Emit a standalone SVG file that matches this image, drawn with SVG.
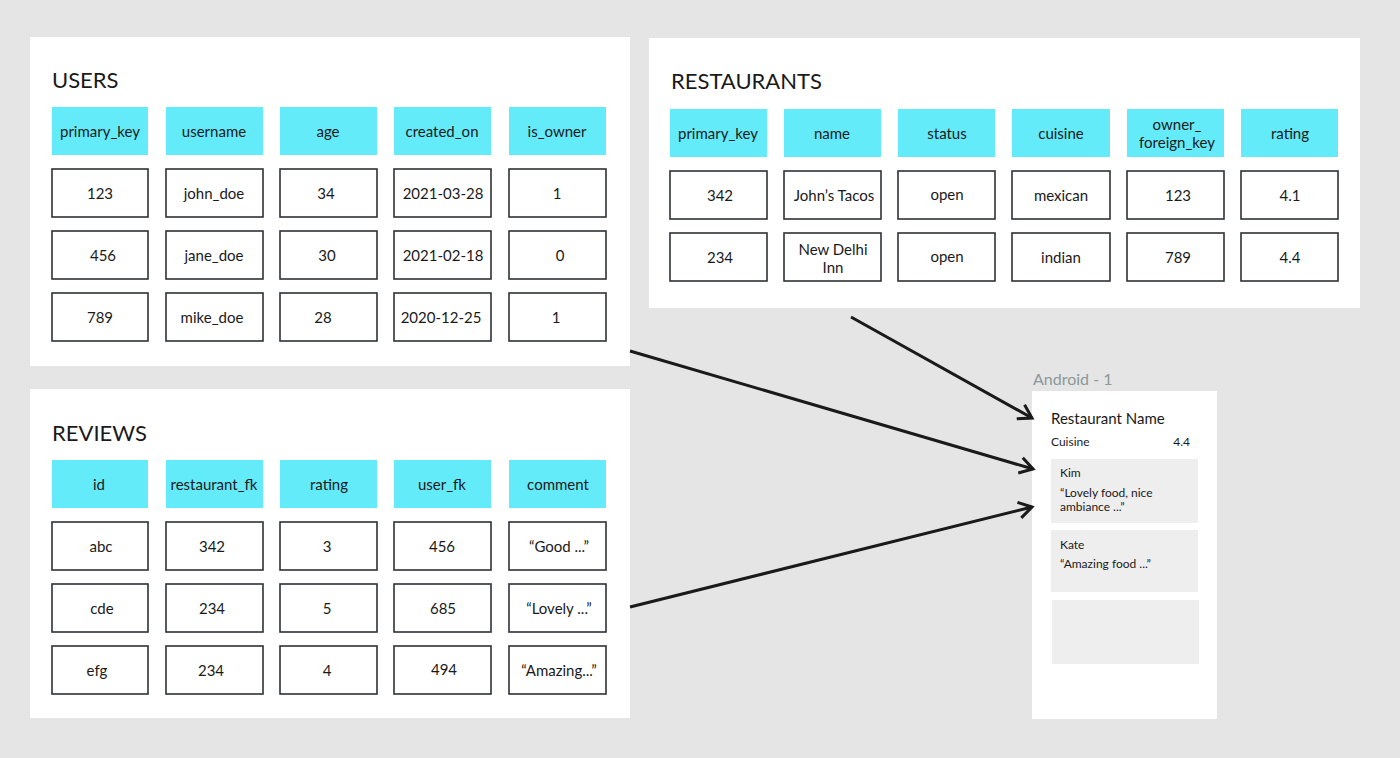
<svg xmlns="http://www.w3.org/2000/svg" width="1400" height="758" viewBox="0 0 1400 758">
<style>
.panel{fill:#ffffff}
.hd{fill:#64ebfa}
.cell{fill:#ffffff;stroke:#2e3236;stroke-width:1.6}
.t{font-family:Lato,"Open Sans",sans-serif;font-size:15px;fill:#1a1a1a;text-anchor:middle}
.title{font-family:Lato,"Open Sans",sans-serif;font-size:22px;fill:#1a1a1a}
.lbl{font-family:Lato,"Open Sans",sans-serif;font-size:16px;fill:#8c9899}
.s{font-family:Lato,"Open Sans",sans-serif;font-size:12px;fill:#1a1a1a}
.card{fill:#eeeeee}
.conn{fill:none;stroke:#1a1a1a;stroke-width:3}
</style>
<defs>
<marker id="arr" markerUnits="userSpaceOnUse" markerWidth="20" markerHeight="20" viewBox="0 0 20 20" refX="16" refY="10" orient="auto">
<path d="M3,2 L16,10 L3,18" fill="none" stroke="#1a1a1a" stroke-width="3"/>
</marker>
</defs>
<rect width="1400" height="758" fill="#e5e5e5"/>

<g id="users">
<rect class="panel" x="30" y="37" width="600" height="329"/>
<text class="title" x="52" y="88">USERS</text>
<rect class="hd" x="52" y="107" width="96" height="48"/>
<rect class="hd" x="166" y="107" width="97" height="48"/>
<rect class="hd" x="280" y="107" width="97" height="48"/>
<rect class="hd" x="394" y="107" width="97" height="48"/>
<rect class="hd" x="509" y="107" width="97" height="48"/>
<text class="t" x="100" y="137">primary_key</text>
<text class="t" x="214" y="137">username</text>
<text class="t" x="328" y="137">age</text>
<text class="t" x="442" y="137">created_on</text>
<text class="t" x="557" y="137">is_owner</text>
<rect class="cell" x="52" y="169" width="96" height="48"/>
<rect class="cell" x="166" y="169" width="97" height="48"/>
<rect class="cell" x="280" y="169" width="97" height="48"/>
<rect class="cell" x="394" y="169" width="97" height="48"/>
<rect class="cell" x="509" y="169" width="97" height="48"/>
<text class="t" x="100" y="199">123</text>
<text class="t" x="214" y="199">john_doe</text>
<text class="t" x="326" y="199">34</text>
<text class="t" x="443" y="199">2021-03-28</text>
<text class="t" x="557" y="199">1</text>
<rect class="cell" x="52" y="231" width="96" height="48"/>
<rect class="cell" x="166" y="231" width="97" height="48"/>
<rect class="cell" x="280" y="231" width="97" height="48"/>
<rect class="cell" x="394" y="231" width="97" height="48"/>
<rect class="cell" x="509" y="231" width="97" height="48"/>
<text class="t" x="103" y="261">456</text>
<text class="t" x="214" y="261">jane_doe</text>
<text class="t" x="327" y="261">30</text>
<text class="t" x="443" y="261">2021-02-18</text>
<text class="t" x="560" y="261">0</text>
<rect class="cell" x="52" y="293" width="96" height="48"/>
<rect class="cell" x="166" y="293" width="97" height="48"/>
<rect class="cell" x="280" y="293" width="97" height="48"/>
<rect class="cell" x="394" y="293" width="97" height="48"/>
<rect class="cell" x="509" y="293" width="97" height="48"/>
<text class="t" x="100" y="323">789</text>
<text class="t" x="212" y="323">mike_doe</text>
<text class="t" x="323" y="323">28</text>
<text class="t" x="441" y="323">2020-12-25</text>
<text class="t" x="556" y="323">1</text>
</g>

<g id="restaurants">
<rect class="panel" x="649" y="38" width="711" height="270"/>
<text class="title" x="671" y="89">RESTAURANTS</text>
<rect class="hd" x="670" y="109" width="97" height="48"/>
<rect class="hd" x="784" y="109" width="97" height="48"/>
<rect class="hd" x="898" y="109" width="97" height="48"/>
<rect class="hd" x="1012" y="109" width="98" height="48"/>
<rect class="hd" x="1127" y="109" width="97" height="48"/>
<rect class="hd" x="1241" y="109" width="97" height="48"/>
<text class="t" x="718" y="139">primary_key</text>
<text class="t" x="832" y="139">name</text>
<text class="t" x="947" y="139">status</text>
<text class="t" x="1061" y="139">cuisine</text>
<text class="t" x="1177" y="130">owner_</text>
<text class="t" x="1177" y="148">foreign_key</text>
<text class="t" x="1290" y="139">rating</text>
<rect class="cell" x="670" y="171" width="97" height="48"/>
<rect class="cell" x="784" y="171" width="97" height="48"/>
<rect class="cell" x="898" y="171" width="97" height="48"/>
<rect class="cell" x="1012" y="171" width="98" height="48"/>
<rect class="cell" x="1127" y="171" width="97" height="48"/>
<rect class="cell" x="1241" y="171" width="97" height="48"/>
<text class="t" x="720" y="201">342</text>
<text class="t" x="834" y="201">John’s Tacos</text>
<text class="t" x="947" y="200">open</text>
<text class="t" x="1061" y="201">mexican</text>
<text class="t" x="1178" y="201">123</text>
<text class="t" x="1290" y="201">4.1</text>
<rect class="cell" x="670" y="233" width="97" height="48"/>
<rect class="cell" x="784" y="233" width="97" height="48"/>
<rect class="cell" x="898" y="233" width="97" height="48"/>
<rect class="cell" x="1012" y="233" width="98" height="48"/>
<rect class="cell" x="1127" y="233" width="97" height="48"/>
<rect class="cell" x="1241" y="233" width="97" height="48"/>
<text class="t" x="720" y="263">234</text>
<text class="t" x="833" y="255">New Delhi</text>
<text class="t" x="833" y="273">Inn</text>
<text class="t" x="947" y="262">open</text>
<text class="t" x="1061" y="263">indian</text>
<text class="t" x="1178" y="263">789</text>
<text class="t" x="1290" y="263">4.4</text>
</g>

<g id="reviews">
<rect class="panel" x="30" y="389" width="600" height="329"/>
<text class="title" x="52" y="441">REVIEWS</text>
<rect class="hd" x="52" y="460" width="96" height="48"/>
<rect class="hd" x="166" y="460" width="97" height="48"/>
<rect class="hd" x="280" y="460" width="97" height="48"/>
<rect class="hd" x="394" y="460" width="97" height="48"/>
<rect class="hd" x="509" y="460" width="97" height="48"/>
<text class="t" x="99" y="490">id</text>
<text class="t" x="214" y="490">restaurant_fk</text>
<text class="t" x="329" y="490">rating</text>
<text class="t" x="442" y="490">user_fk</text>
<text class="t" x="558" y="490">comment</text>
<rect class="cell" x="52" y="522" width="96" height="48"/>
<rect class="cell" x="166" y="522" width="97" height="48"/>
<rect class="cell" x="280" y="522" width="97" height="48"/>
<rect class="cell" x="394" y="522" width="97" height="48"/>
<rect class="cell" x="509" y="522" width="97" height="48"/>
<text class="t" x="101" y="552">abc</text>
<text class="t" x="212" y="552">342</text>
<text class="t" x="327" y="552">3</text>
<text class="t" x="442" y="552">456</text>
<text class="t" x="559" y="552">“Good ...”</text>
<rect class="cell" x="52" y="584" width="96" height="48"/>
<rect class="cell" x="166" y="584" width="97" height="48"/>
<rect class="cell" x="280" y="584" width="97" height="48"/>
<rect class="cell" x="394" y="584" width="97" height="48"/>
<rect class="cell" x="509" y="584" width="97" height="48"/>
<text class="t" x="102" y="614">cde</text>
<text class="t" x="212" y="614">234</text>
<text class="t" x="327" y="614">5</text>
<text class="t" x="443" y="614">685</text>
<text class="t" x="559" y="614">“Lovely ...”</text>
<rect class="cell" x="52" y="646" width="96" height="48"/>
<rect class="cell" x="166" y="646" width="97" height="48"/>
<rect class="cell" x="280" y="646" width="97" height="48"/>
<rect class="cell" x="394" y="646" width="97" height="48"/>
<rect class="cell" x="509" y="646" width="97" height="48"/>
<text class="t" x="97" y="676">efg</text>
<text class="t" x="211" y="676">234</text>
<text class="t" x="327" y="676">4</text>
<text class="t" x="444" y="675">494</text>
<text class="t" x="559" y="676">“Amazing...”</text>
</g>

<g id="android">
<text class="lbl" x="1033" y="385">Android - 1</text>
<rect class="panel" x="1032" y="391" width="185" height="328"/>
<text class="s" x="1051" y="424" style="font-size:15px">Restaurant Name</text>
<text class="s" x="1051" y="446">Cuisine</text>
<text class="s" x="1190" y="446" text-anchor="end">4.4</text>
<rect class="card" x="1051" y="459" width="147" height="64"/>
<text class="s" x="1060" y="477">Kim</text>
<text class="s" x="1060" y="497">“Lovely food, nice</text>
<text class="s" x="1060" y="511">ambiance ...”</text>
<rect class="card" x="1051" y="530" width="147" height="62"/>
<text class="s" x="1060" y="549">Kate</text>
<text class="s" x="1060" y="568">“Amazing food ...”</text>
<rect class="card" x="1052" y="600" width="147" height="64"/>
</g>

<g id="connectors">
<line class="conn" x1="851" y1="317" x2="1032" y2="418" marker-end="url(#arr)"/>
<line class="conn" x1="630" y1="351" x2="1033" y2="469" marker-end="url(#arr)"/>
<line class="conn" x1="630" y1="607" x2="1032" y2="507" marker-end="url(#arr)"/>
</g>
</svg>
